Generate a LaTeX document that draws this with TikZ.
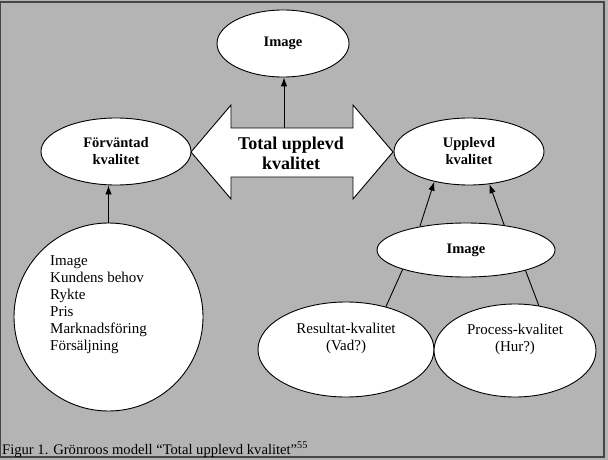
\documentclass[tikz,border=0pt]{standalone}
\usepackage{fontspec}
\setmainfont{Liberation Serif}
\usetikzlibrary{arrows.meta,calc,shapes.geometric}
\definecolor{bggrey}{RGB}{180,180,180}
\definecolor{framegrey}{RGB}{70,70,70}
\begin{document}
\begin{tikzpicture}[x=1pt,y=-1pt,
 oval/.style={ellipse,draw=black,fill=white,line width=0.9pt,inner sep=0pt},
 bl/.style={font=\fontsize{14.5}{17}\selectfont\bfseries,align=center},
 rg/.style={font=\fontsize{15}{17}\selectfont,align=center},
 conn/.style={draw=black,line width=0.9pt},
 arr/.style={conn,-{Latex[length=9pt,width=6.5pt]}}]
\useasboundingbox (0,0) rectangle (608,460);
\fill[bggrey] (0,0) rectangle (608,460);
\draw[framegrey,line width=1.2pt] (0.6,2) rectangle (604,457);

% big double arrow
\draw[fill=white,line width=0.9pt] (191,152)--(231,105)--(231,128)--(353,128)--(353,105)--(393,152)--(353,199)--(353,177)--(231,177)--(231,199)--cycle;
\coordinate (shafttop) at (284,128);
\node[font=\fontsize{18}{20}\selectfont\bfseries,align=center] (tuk) at (291,153) {Total upplevd\\kvalitet};

\node[oval,bl,minimum width=132pt,minimum height=67pt] (imgtop) at (283,43.5) {Image};
\node[oval,bl,minimum width=150pt,minimum height=67pt] (forv) at (116,151.5) {Förväntad\\kvalitet};
\node[oval,bl,minimum width=150pt,minimum height=67pt] (upp) at (469,151.5) {Upplevd\\kvalitet};

\node[oval,minimum width=189pt,minimum height=188pt] (big) at (108.5,317) {};
\node[rg,align=left,anchor=north west,inner sep=0pt] (list) at (50,255) {Image\\Kundens behov\\Rykte\\Pris\\Marknadsföring\\Försäljning};

\node[oval,bl,minimum width=178pt,minimum height=54pt] (img2) at (466,250) {Image};
\node[oval,minimum width=176pt,minimum height=95pt] (res) at (346,349.5) {};
\node[rg] (restext) at (346,338) {Resultat-kvalitet\\(Vad?)};
\node[oval,minimum width=162pt,minimum height=93pt] (proc) at (515,350.5) {};
\node[rg] (proctext) at (515,339) {Process-kvalitet\\(Hur?)};

\draw[arr] (shafttop) -- (shafttop |- imgtop.south);
\draw[arr] (big.north) -- (big.north |- forv.south);
\draw[arr] (img2.153) -- (upp.-139);
\draw[arr] (img2.33) -- (upp.-58);
\draw[conn] (img2.-163) -- (res.47);
\draw[conn] (img2.-19) -- (proc.62);

\node[anchor=base west,inner sep=0pt,font=\fontsize{14.6}{17}\selectfont] (cap) at (2,454) {Figur 1. Grönroos modell “Total upplevd kvalitet”\textsuperscript{55}};
\end{tikzpicture}
\end{document}
